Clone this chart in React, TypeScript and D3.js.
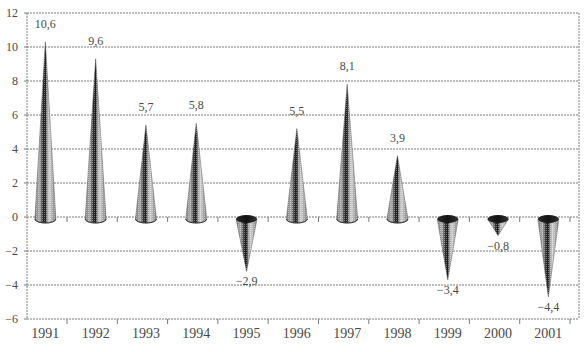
import React from "react";
import * as d3 from "d3";

const years = ["1991", "1992", "1993", "1994", "1995", "1996", "1997", "1998", "1999", "2000", "2001"];
const values = [10.6, 9.6, 5.7, 5.8, -2.9, 5.5, 8.1, 3.9, -3.4, -0.8, -4.4];
const yTicks = [12, 10, 8, 6, 4, 2, 0, -2, -4, -6];

const width = 588;
const height = 352;
const plot = { left: 27, right: 579, top: 13, bottom: 319 };

const fmt = (v: number) => v.toFixed(1).replace(".", ",").replace("-", "\u2212");

export default function App() {
  const y = d3.scaleLinear().domain([-6, 12]).range([plot.bottom, plot.top]);
  // 3D floor is shifted a little left of the back wall
  const x = d3.scaleBand<string>().domain(years).range([16.7, 570]);
  const cx = (d: string) => (x(d) ?? 0) + x.bandwidth() / 2 + 3.5;
  // cones sit in front of the wall, slightly lower
  const yc = (v: number) => y(v) + 5;
  const baseY = y(0) + 2;
  const rx = 10.5;
  const ry = 4;

  const grid = "#7a7a7a";
  const txt = "#4a4a4a";
  const font = "'Liberation Serif', 'DejaVu Serif', serif";

  return (
    <svg
      width={width}
      height={height}
      style={{ position: "absolute", left: 0, top: 0, background: "#fff" }}
    >
      <defs>
        <linearGradient id="coneBody" x1="0" x2="1" y1="0" y2="0">
          <stop offset="0%" stopColor="#7c7c7c" />
          <stop offset="22%" stopColor="#acacac" />
          <stop offset="40%" stopColor="#2a2a2a" />
          <stop offset="50%" stopColor="#1a1a1a" />
          <stop offset="58%" stopColor="#9a9a9a" />
          <stop offset="70%" stopColor="#d0d0d0" />
          <stop offset="85%" stopColor="#a5a5a5" />
          <stop offset="100%" stopColor="#858585" />
        </linearGradient>
        <linearGradient id="coneTop" x1="0" x2="1" y1="0" y2="0">
          <stop offset="0%" stopColor="#2a2a2a" />
          <stop offset="50%" stopColor="#111" />
          <stop offset="100%" stopColor="#333" />
        </linearGradient>
        <pattern id="dots" width="2" height="2" patternUnits="userSpaceOnUse">
          <rect x="0" y="0" width="1" height="1" fill="#ffffff" opacity="0.35" />
        </pattern>
      </defs>

      {/* grid lines */}
      {yTicks.map((t) => (
        <g key={t}>
          <line
            x1={plot.left}
            x2={plot.right}
            y1={y(t)}
            y2={y(t)}
            stroke={grid}
            strokeDasharray="2 1"
          />
          <line x1={plot.left - 3} x2={plot.left} y1={y(t)} y2={y(t)} stroke={grid} />
          <text
            x={plot.left - 9}
            y={y(t) + 4}
            textAnchor="end"
            fontSize={12}
            fontFamily={font}
            fill={txt}
          >
            {fmt(t).replace(",0", "")}
          </text>
        </g>
      ))}
      <line x1={plot.left} x2={plot.left} y1={plot.top} y2={plot.bottom} stroke={grid} strokeDasharray="2 1" />
      <line x1={plot.right} x2={plot.right} y1={plot.top} y2={plot.bottom} stroke={grid} strokeDasharray="2 1" />

      {/* category ticks on zero line and bottom */}
      {years.map((d) => {
        const tx = (x(d) ?? 0) + x.bandwidth();
        return (
          <g key={"t" + d}>
            <line x1={tx} x2={tx} y1={y(0)} y2={y(0) + 5} stroke={grid} />
            <line x1={tx} x2={tx} y1={plot.bottom} y2={plot.bottom + 5} stroke={grid} />
          </g>
        );
      })}

      {/* cones */}
      {years.map((d, i) => {
        const v = values[i];
        const c = cx(d);
        const tip = yc(v);
        if (v >= 0) {
          const path = `M${c - rx},${baseY} L${c},${tip} L${c + rx},${baseY} A${rx},${ry} 0 0 1 ${c - rx},${baseY} Z`;
          return (
            <g key={"c" + d}>
              <path d={path} fill="url(#coneBody)" stroke="#555" strokeWidth={0.5} />
              <path d={path} fill="url(#dots)" />
              <path
                d={`M${c - rx},${baseY} A${rx},${ry} 0 0 0 ${c + rx},${baseY}`}
                fill="none"
                stroke="#333"
                strokeWidth={1}
              />
            </g>
          );
        }
        const path = `M${c - rx},${baseY} L${c},${tip} L${c + rx},${baseY} Z`;
        return (
          <g key={"c" + d}>
            <path d={path} fill="url(#coneBody)" stroke="#555" strokeWidth={0.5} />
            <path d={path} fill="url(#dots)" />
            <ellipse cx={c} cy={baseY} rx={rx} ry={ry} fill="url(#coneTop)" />
          </g>
        );
      })}

      {/* value labels */}
      {years.map((d, i) => {
        const v = values[i];
        return (
          <text
            key={"l" + d}
            x={cx(d)}
            y={v >= 0 ? y(v) - 9 : yc(v) + 14}
            textAnchor="middle"
            fontSize={12}
            fontFamily={font}
            fill={txt}
          >
            {fmt(v)}
          </text>
        );
      })}

      {/* year labels */}
      {years.map((d) => (
        <text
          key={"y" + d}
          x={cx(d)}
          y={338}
          textAnchor="middle"
          fontSize={14}
          fontFamily={font}
          fill={txt}
        >
          {d}
        </text>
      ))}
    </svg>
  );
}
